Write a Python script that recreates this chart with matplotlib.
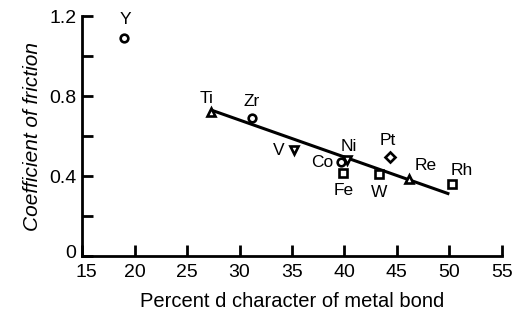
import matplotlib
matplotlib.use("Agg")
import matplotlib.pyplot as plt
import matplotlib.transforms as mtransforms

plt.rcParams['font.family'] = ['Liberation Sans', 'DejaVu Sans']

metals = ["Y", "Ti", "Zr", "V", "Co", "Ni", "Fe", "W", "Pt", "Re", "Rh"]
pct_d = [19.0, 27.3, 31.2, 35.2, 39.7, 40.2, 39.9, 43.3, 44.3, 46.2, 50.3]
friction = [1.09, 0.72, 0.69, 0.53, 0.47, 0.48, 0.415, 0.41, 0.495, 0.385, 0.36]
markers = ["o", "^", "o", "v", "o", "v", "s", "s", "D", "^", "s"]
label_offsets = [(0.7, 13.5), (-3.6, 10), (0, 12), (-11, 0), (-14, 0), (2, 10),
                 (0, -12.5), (0, -13), (-1, 12), (11.5, 9.4), (7, 10)]

fit_x = [27.3, 50.0]
fit_y = [0.73, 0.31]

xticks = [15, 20, 25, 30, 35, 40, 45, 50, 55]
yticks = [0, 0.4, 0.8, 1.2]
yticklabels = ["0", "0.4", "0.8", "1.2"]

fig = plt.figure(figsize=(5.2, 3.22), dpi=100)
ax = fig.add_axes([0.158, 0.205, 0.807, 0.745])

ax.plot(fit_x, fit_y, color="black", lw=2.2, solid_capstyle="butt")
for x, y, m, name, off in zip(pct_d, friction, markers, metals, label_offsets):
    ms = 5 if m == "D" else 5.5
    ax.plot([x], [y], marker=m, ms=ms, mfc="white", mec="black", mew=1.9, ls="none", zorder=3)
    ax.annotate(name, (x, y), xytext=off, textcoords="offset points",
                ha="center", va="center", fontsize=12.5)

ax.set_xlim(15, 55)
ax.set_ylim(0, 1.2)
ax.set_xticks(xticks)
ax.set_yticks(yticks)
ax.set_yticklabels(yticklabels)
ax.set_yticks([0.2, 0.6, 1.0], minor=True)
for s in ["top", "right"]:
    ax.spines[s].set_visible(False)
for s in ["left", "bottom"]:
    ax.spines[s].set_linewidth(2)
ax.tick_params(axis="both", which="both", direction="in", width=2, labelsize=14)
ax.tick_params(axis="y", which="major", length=8, pad=4)
ax.tick_params(axis="x", which="major", length=8, pad=6)
ax.tick_params(axis="y", which="minor", length=8)
ax.set_xlabel("Percent d character of metal bond", fontsize=14.5, labelpad=8)
ax.set_ylabel("Coefficient of friction", fontsize=15, style="italic", labelpad=5)

# nudge the "0" label slightly up and the "15" label slightly right, as in the reference
ylab0 = ax.get_yticklabels()[0]
ylab0.set_transform(ylab0.get_transform() + mtransforms.ScaledTranslation(0, 3 / 72, fig.dpi_scale_trans))
xlab0 = ax.get_xticklabels()[0]
xlab0.set_transform(xlab0.get_transform() + mtransforms.ScaledTranslation(3 / 72, 0, fig.dpi_scale_trans))

fig.savefig("out.png", dpi=100)
